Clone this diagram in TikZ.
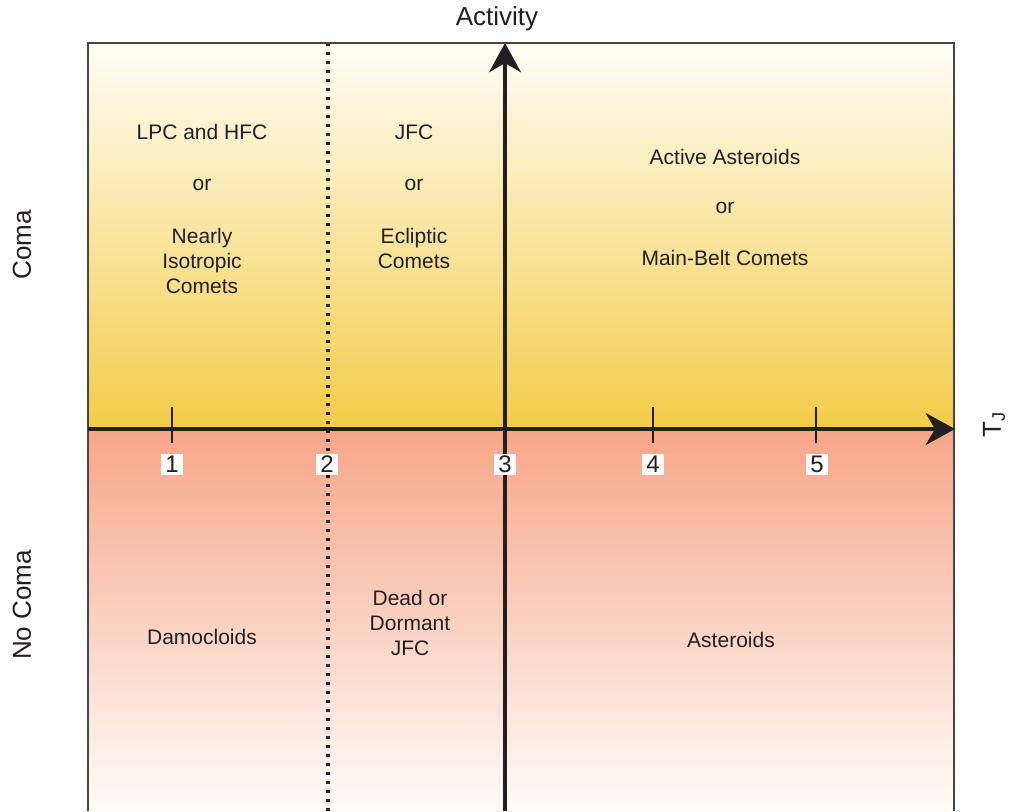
\documentclass[tikz,border=0pt]{standalone}
\usepackage{fontspec}
\setmainfont{Liberation Sans}
\usetikzlibrary{arrows.meta}
\definecolor{creamtop}{RGB}{255,253,246}
\definecolor{goldaxis}{RGB}{243,204,72}
\definecolor{salmon}{RGB}{247,166,136}
\definecolor{pinkwhite}{RGB}{255,252,250}
\definecolor{borderc}{RGB}{70,70,70}
\definecolor{ink}{RGB}{35,31,32}
\tikzset{
  lbl/.style={font=\fontsize{15.75}{18.75}\selectfont, align=center, text=ink, inner sep=0pt},
  axlbl/.style={font=\fontsize{19.5}{22}\selectfont, text=ink, inner sep=0pt},
  ticklbl/.style={font=\fontsize{18}{20}\selectfont, fill=white, text=ink, minimum width=16.5pt, minimum height=15.75pt, inner sep=0pt},
  axisline/.style={line width=2.6pt, draw=ink, -{Stealth[length=22pt, width=24pt, inset=7pt]}},
  tickline/.style={line width=1.5pt, draw=ink},
  borderline/.style={line width=1.2pt, draw=borderc},
}
\begin{document}
\begin{tikzpicture}[x=0.75pt, y=-0.75pt]
\useasboundingbox (0,0) rectangle (1016,811);
% backgrounds
\shade[top color=creamtop, bottom color=goldaxis] (88,43) rectangle (954,429);
\shade[top color=salmon, bottom color=pinkwhite] (88,429) rectangle (954,811);
% coordinates
\coordinate (dtop) at (328,43);
\coordinate (dbot) at (328,811);
\coordinate (vbot) at (505,811);
\coordinate (vtop) at (505,43);
\coordinate (hleft) at (88,429);
\coordinate (hright) at (955,429);
% dotted divider
\draw[line width=2.3pt, draw=ink, dash pattern=on 2.3pt off 4.45pt] (dtop) -- (dbot);
% borders
\draw[borderline] (88,811) -- (88,43) -- (954,43) -- (954,811);
% axes
\draw[axisline, line width=2.3pt] (vbot) -- (vtop);
\draw[axisline] (hleft) -- (hright);
% ticks
\foreach \x/\n in {172/1, 653/4, 816/5}{
  \coordinate (t\n a) at (\x,407);
  \coordinate (t\n b) at (\x,443);
  \draw[tickline] (t\n a) -- (t\n b);
}
% tick labels
\node[ticklbl] (n1) at (172,464) {1};
\node[ticklbl] (n2) at (327,464) {2};
\node[ticklbl] (n3) at (505,464) {3};
\node[ticklbl] (n4) at (653,464) {4};
\node[ticklbl] (n5) at (817,464) {5};
% axis labels
\node[axlbl] (act) at (497,19) {Activity};
\node[axlbl, rotate=90] (coma) at (22,245) {Coma};
\node[axlbl, rotate=90] (nocoma) at (22,605) {No Coma};
\node[axlbl, rotate=90, anchor=center] (tj) at (994,425) {T\textsubscript{J}};
% region labels
\node[lbl] (lpc) at (202,132) {LPC and HFC};
\node[lbl] (or1) at (202,185) {or};
\node[lbl] (nic) at (202,261) {Nearly\\Isotropic\\Comets};
\node[lbl] (jfc) at (414,132) {JFC};
\node[lbl] (or2) at (414,185) {or};
\node[lbl] (ecl) at (414,248.5) {Ecliptic\\Comets};
\node[lbl] (aa) at (725,157) {Active Asteroids};
\node[lbl] (or3) at (725,208) {or};
\node[lbl] (mbc) at (725,258) {Main-Belt Comets};
\node[lbl] (damo) at (202,637) {Damocloids};
\node[lbl] (dead) at (410,623) {Dead or\\Dormant\\JFC};
\node[lbl] (ast) at (731,640) {Asteroids};
\end{tikzpicture}
\end{document}
